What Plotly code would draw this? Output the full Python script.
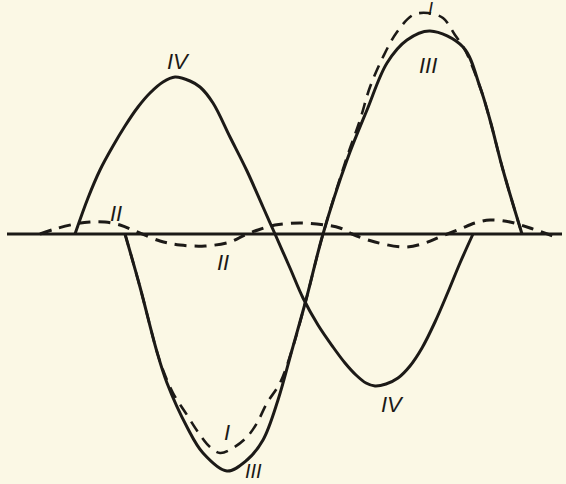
import plotly.graph_objects as go

# readings: x along the base line, displacement above (+) / below (-) it
iv_x = [75, 88, 100, 113, 125, 138, 150, 163, 175, 190, 200, 213, 230, 247, 263, 275, 290, 303, 318, 333, 345, 356, 366, 375, 386, 398, 410, 422, 435, 448, 460, 473]
iv_y = [0, 36, 64, 88, 108, 127, 141, 152, 157, 153, 147, 131, 97, 63, 27, 0, -34, -64, -91, -113, -129, -141, -149, -152, -150, -144, -132, -114, -88, -58, -29, 0]

iii_x = [125, 140, 157, 167, 187, 203, 227, 247, 263, 278, 292, 306, 323, 347, 367, 387, 407, 430, 463, 480, 490, 503, 522]
iii_y = [0, -53, -118, -149, -193, -219, -237, -226, -206, -166, -116, -66, 0, 74, 124, 171, 194, 203, 187, 147, 114, 64, 0]

i_x = [125, 140, 157, 163, 173, 187, 198, 210, 220, 233, 247, 257, 267, 280, 292, 306, 323, 347, 360, 370, 383, 397, 413, 428, 443, 455, 465, 480, 490, 503, 522]
i_y = [0, -53, -118, -136, -159, -181, -198, -213, -219, -214, -203, -189, -169, -149, -116, -66, 0, 77, 114, 147, 177, 202, 219, 221, 216, 199, 184, 147, 114, 64, 0]

ii_x = [40, 55, 75, 90, 105, 120, 135, 160, 180, 205, 230, 245, 258, 275, 300, 325, 340, 352, 375, 405, 425, 440, 460, 475, 490, 510, 530, 553]
ii_y = [0, 5, 10, 12, 12, 9, 3, -7, -11, -12, -8, -1, 4, 9, 11, 9, 6, 0, -8, -13, -9, -3, 5, 11, 14, 12, 6, -2]

base_x = [7, 562]
base_y = [0, 0]

labels = ["IV", "II", "II", "III", "I", "I", "III", "IV"]
label_x = [178, 116, 223, 428, 430, 227, 253, 392]
label_y = [173, 21, -28, 169, 225, -198, -237, -170]
label_size = [22, 22, 22, 22, 18, 22, 20, 22]

INK = "#1c1a17"
PAPER = "#fbf8e5"

fig = go.Figure()
fig.add_trace(go.Scatter(x=base_x, y=base_y, mode="lines",
                         line=dict(color=INK, width=3)))
fig.add_trace(go.Scatter(x=ii_x, y=ii_y, mode="lines", line_shape="spline",
                         line=dict(color=INK, width=3, dash="12px,8px")))
fig.add_trace(go.Scatter(x=i_x, y=i_y, mode="lines", line_shape="spline",
                         line=dict(color=INK, width=2.6, dash="12px,8px")))
fig.add_trace(go.Scatter(x=iii_x, y=iii_y, mode="lines", line_shape="spline",
                         line=dict(color=INK, width=3)))
fig.add_trace(go.Scatter(x=iv_x, y=iv_y, mode="lines", line_shape="spline",
                         line=dict(color=INK, width=3)))

for t, lx, ly, s in zip(labels, label_x, label_y, label_size):
    fig.add_annotation(x=lx, y=ly, text="<i>" + t + "</i>", showarrow=False,
                       font=dict(family="Liberation Sans", size=s, color=INK))

fig.update_layout(
    width=566, height=484,
    margin=dict(l=0, r=0, t=0, b=0),
    paper_bgcolor=PAPER, plot_bgcolor=PAPER,
    showlegend=False,
    hovermode=False,
    xaxis=dict(range=[0, 566], visible=False),
    yaxis=dict(range=[-250, 234], visible=False),
)

fig.write_html("out.html", config={"displayModeBar": False},
               post_script="document.body.style.margin='0';document.body.style.background='%s';" % PAPER)
